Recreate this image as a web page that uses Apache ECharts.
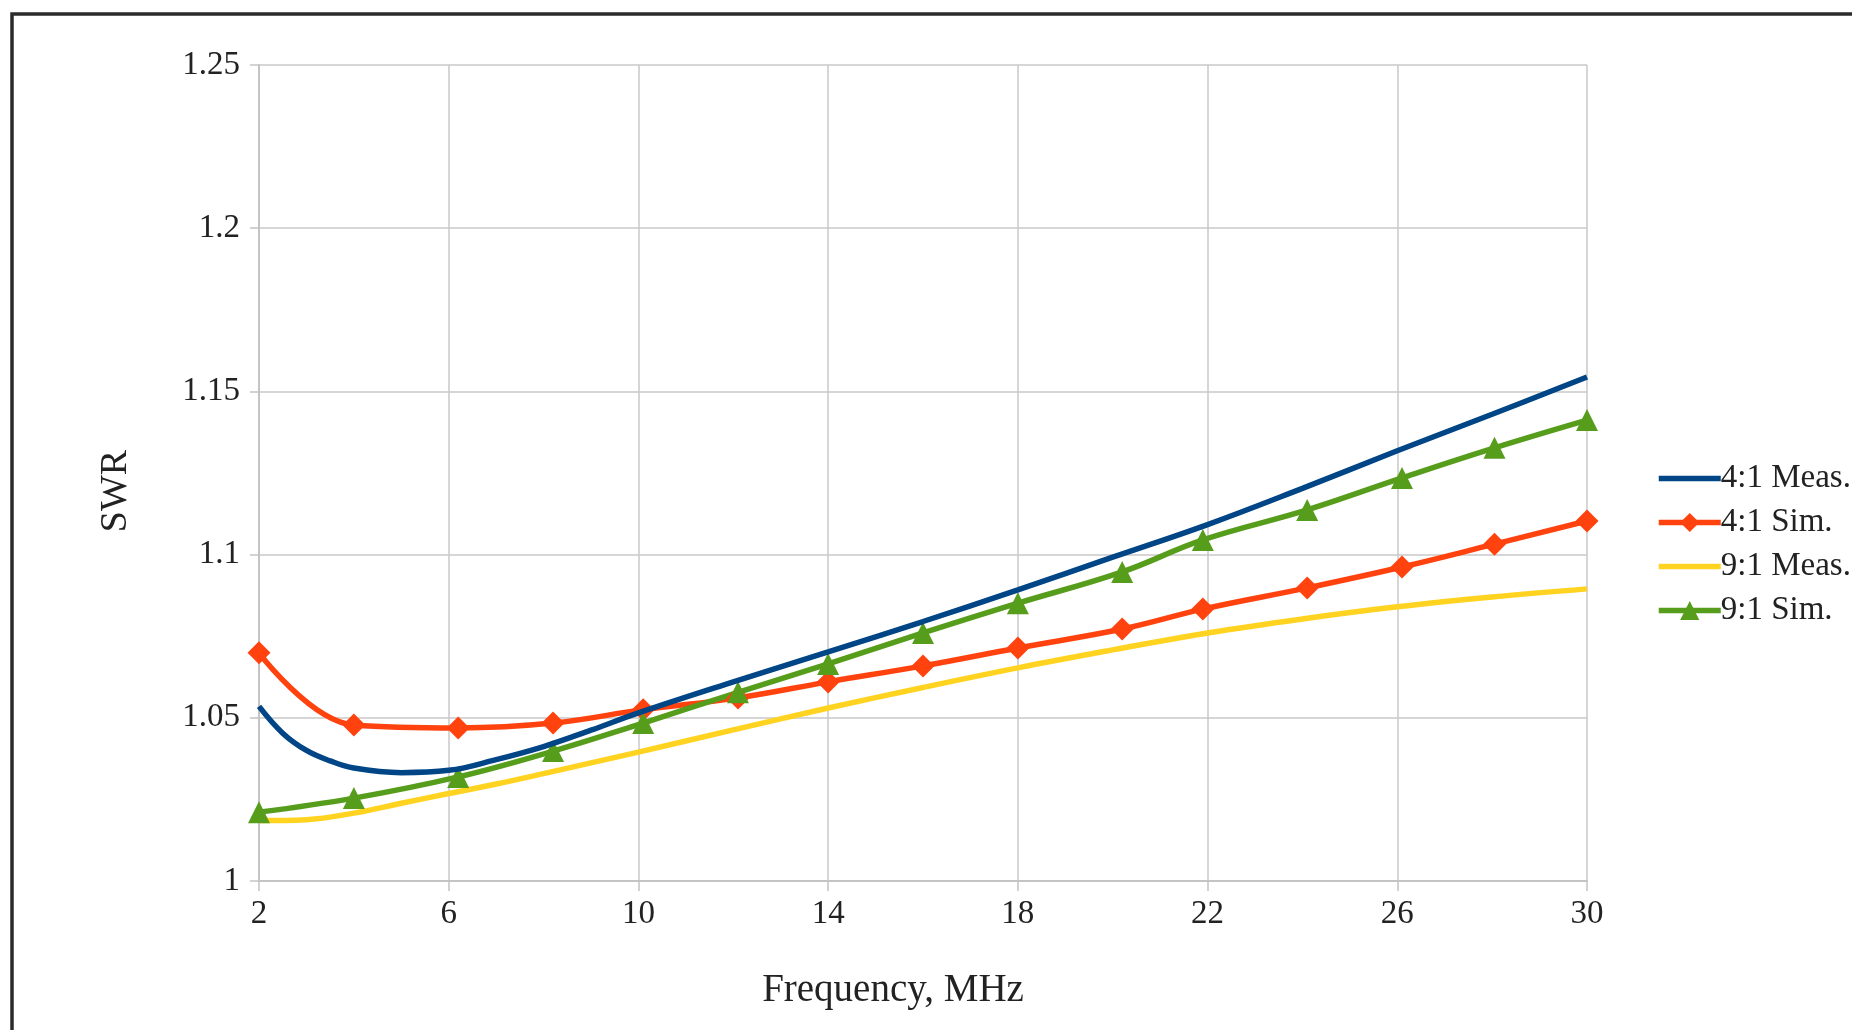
<!DOCTYPE html>
<html>
<head>
<meta charset="utf-8">
<script src="https://cdn.jsdelivr.net/npm/echarts@6/dist/echarts.min.js"></script>
<style>
html,body{margin:0;padding:0;background:#fff;}
#chart{width:1852px;height:1030px;}
</style>
</head>
<body>
<div id="chart"></div>
<script>
// ---- data ----
const seriesNames = ['4:1 Meas.', '4:1 Sim.', '9:1 Meas.', '9:1 Sim.'];

const meas41Freq = [2, 2.5, 3, 3.5, 4, 5, 6, 7, 8, 9, 10, 12, 14, 16, 18, 20, 22, 24, 26, 28, 30];
const meas41Swr  = [1.0535, 1.0453, 1.0400, 1.0368, 1.0346, 1.0332, 1.0339, 1.0372, 1.0412, 1.0462, 1.0515,
                    1.0610, 1.0702, 1.0795, 1.0892, 1.0992, 1.1092, 1.1203, 1.1318, 1.1430, 1.1544];

const simFreq    = [2, 4, 6.2, 8.2, 10.1, 12.1, 14, 16, 18, 20.2, 21.9, 24.1, 26.1, 28.05, 30];
const sim41Swr   = [1.0699, 1.0478, 1.0469, 1.0484, 1.0525, 1.0561, 1.0610, 1.0659, 1.0714, 1.0772,
                    1.0833, 1.0898, 1.0962, 1.1032, 1.1103];
const sim91Swr   = [1.0211, 1.0254, 1.0319, 1.0398, 1.0484, 1.0578, 1.0665, 1.0760, 1.0851, 1.0947,
                    1.1045, 1.1137, 1.1235, 1.1327, 1.1412];

const meas91Freq = [2, 3, 4, 5, 6, 7, 8, 10, 12, 14, 16, 18, 20, 22, 24, 26, 28, 30];
const meas91Swr  = [1.0185, 1.0188, 1.0208, 1.0238, 1.0268, 1.0297, 1.0329, 1.0395, 1.0463, 1.0530,
                    1.0593, 1.0653, 1.0708, 1.0760, 1.0803, 1.0840, 1.0870, 1.0895];

const xTicks = [2, 6, 10, 14, 18, 22, 26, 30];
const yTicks = [1, 1.05, 1.1, 1.15, 1.2, 1.25];

const colors = ['#004586', '#ff420e', '#ffd320', '#579d1c'];
const font = 'Liberation Serif';

function pairs(xs, ys) { return xs.map((x, i) => [x, ys[i]]); }

const chart = echarts.init(document.getElementById('chart'), null, {renderer: 'canvas'});
const option = {
  backgroundColor: '#ffffff',
  animation: false,
  color: colors,
  textStyle: {fontFamily: font},
  graphic: [{
    type: 'rect', silent: true, z: -10,
    shape: {x: 12, y: 14, width: 1900, height: 1100},
    style: {fill: 'none', stroke: '#2b2b2b', lineWidth: 3.5}
  }],
  grid: {left: 259, right: 265, top: 65, bottom: 149, containLabel: false},
  legend: {
    orient: 'vertical',
    left: 1651, top: 457,
    itemWidth: 62, itemHeight: 24, itemGap: 11,
    lineStyle: {width: 5.5},
    textStyle: {fontFamily: font, fontSize: 33, color: '#222', padding: [0, 0, 0, -5]},
    data: [
      {name: seriesNames[0], itemStyle: {opacity: 0}},
      {name: seriesNames[1]},
      {name: seriesNames[2], itemStyle: {opacity: 0}},
      {name: seriesNames[3]}
    ]
  },
  xAxis: {
    type: 'value',
    min: xTicks[0], max: xTicks[xTicks.length - 1], interval: 4,
    name: 'Frequency, MHz', nameLocation: 'middle', nameGap: 90,
    nameTextStyle: {fontFamily: font, fontSize: 39, color: '#222', padding: [0, 60, 0, 0]},
    axisLine: {show: true, lineStyle: {color: '#c4c4c4', width: 2}},
    axisTick: {show: true, length: 10, lineStyle: {color: '#c4c4c4', width: 1.5}},
    axisLabel: {fontFamily: font, fontSize: 33, color: '#222', margin: 17},
    splitLine: {show: true, lineStyle: {color: '#c8c8c8', width: 1.5}}
  },
  yAxis: {
    type: 'value',
    min: yTicks[0], max: yTicks[yTicks.length - 1], interval: 0.05,
    name: 'SWR', nameLocation: 'middle', nameGap: 124,
    nameTextStyle: {fontFamily: font, fontSize: 38, color: '#222', padding: [0, 0, 0, -36]},
    axisLine: {show: true, lineStyle: {color: '#c4c4c4', width: 2}},
    axisTick: {show: true, length: 9, lineStyle: {color: '#c4c4c4', width: 1.5}},
    axisLabel: {fontFamily: font, fontSize: 33, color: '#222', margin: 19},
    splitLine: {show: true, lineStyle: {color: '#c8c8c8', width: 1.5}}
  },
  series: [
    {
      name: seriesNames[0], type: 'line', smooth: 0.4, symbol: 'none',
      lineStyle: {width: 5.5, color: colors[0]}, itemStyle: {color: colors[0]},
      data: pairs(meas41Freq, meas41Swr), z: 3
    },
    {
      name: seriesNames[1], type: 'line', smooth: 0.4, symbol: 'diamond', symbolSize: 23,
      showSymbol: true,
      lineStyle: {width: 5.5, color: colors[1]}, itemStyle: {color: colors[1]},
      data: pairs(simFreq, sim41Swr), z: 2
    },
    {
      name: seriesNames[2], type: 'line', smooth: 0.4, symbol: 'none',
      lineStyle: {width: 5.5, color: colors[2]}, itemStyle: {color: colors[2]},
      data: pairs(meas91Freq, meas91Swr), z: 1
    },
    {
      name: seriesNames[3], type: 'line', smooth: 0.4, symbol: 'triangle', symbolSize: 22,
      showSymbol: true,
      lineStyle: {width: 5.5, color: colors[3]}, itemStyle: {color: colors[3]},
      data: pairs(simFreq, sim91Swr), z: 2
    }
  ]
};
chart.setOption(option);
</script>
</body>
</html>
